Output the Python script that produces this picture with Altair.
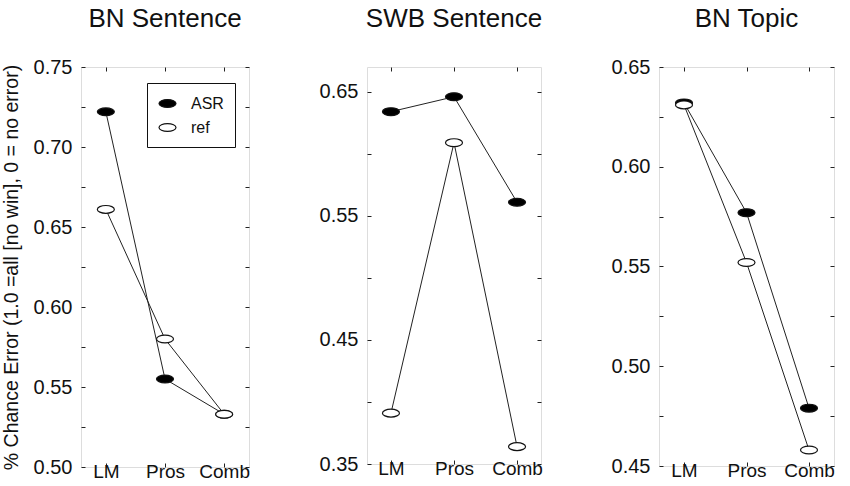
import altair as alt
import pandas as pd

# ---- data ----
categories = ["LM", "Pros", "Comb"]
series_names = ["ASR", "ref"]

bn_sent_asr = [0.722, 0.555, 0.533]
bn_sent_ref = [0.661, 0.580, 0.533]
swb_sent_asr = [0.634, 0.646, 0.561]
swb_sent_ref = [0.391, 0.609, 0.364]
bn_topic_asr = [0.632, 0.577, 0.479]
bn_topic_ref = [0.631, 0.552, 0.458]

bn_sent_ticks = [0.500, 0.525, 0.550, 0.575, 0.600, 0.625, 0.650, 0.675, 0.700, 0.725, 0.750]
swb_sent_ticks = [0.35, 0.40, 0.45, 0.50, 0.55, 0.60, 0.65]
bn_topic_ticks = [0.450, 0.475, 0.500, 0.525, 0.550, 0.575, 0.600, 0.625, 0.650]

bn_sent_labels = [0.50, 0.55, 0.60, 0.65, 0.70, 0.75]
swb_sent_labels = [0.35, 0.45, 0.55, 0.65]
bn_topic_labels = [0.45, 0.50, 0.55, 0.60, 0.65]

titles = ["BN Sentence", "SWB Sentence", "BN Topic"]
y_title = "% Chance Error (1.0 =all [no win], 0 = no error)"

FONT = "Liberation Sans"
TXT = "#111111"
ELLIPSE = "M -1 0 A 1 0.46 0 1 1 1 0 A 1 0.46 0 1 1 -1 0 Z"


def make_df(asr, ref):
    rows = []
    for name, vals in zip(series_names, [asr, ref]):
        for c, v in zip(categories, vals):
            rows.append({"cat": c, "series": name, "value": v})
    return pd.DataFrame(rows)


def label_expr(labels):
    conds = " || ".join(f"abs(datum.value - {v}) < 0.0001" for v in labels)
    return f"({conds}) ? format(datum.value, '.2f') : ''"


def panel(asr, ref, domain, ticks, labels, pad, width, height, title, title_offset,
          ytitle=None, legend=False):
    df = make_df(asr, ref)
    xscale = alt.Scale(type="point", domain=categories, padding=pad)
    yscale = alt.Scale(domain=domain, nice=False, zero=False)

    x_bottom = alt.Axis(orient="bottom", title=None, labelAngle=0, domain=False,
                        tickSize={"expr": "-4"}, tickColor="#222", labelPadding=-1,
                        labelFontSize=19, labelColor=TXT, labelFont=FONT)
    y_left_kwargs = dict(orient="left", values=ticks, labelExpr=label_expr(labels), domain=False,
                         tickSize={"expr": "-4"}, tickColor="#222", labelPadding=13,
                         labelFontSize=20, labelColor=TXT, labelFont=FONT, grid=False)
    if ytitle:
        y_left = alt.Axis(title=ytitle, titleFontSize=19.5, titleFontWeight="normal",
                          titleColor=TXT, titleFont=FONT, titlePadding=12, **y_left_kwargs)
    else:
        y_left = alt.Axis(title=None, **y_left_kwargs)

    x_top = alt.Axis(orient="top", title=None, labels=False, domain=False,
                     tickSize={"expr": "-4"}, tickColor="#222")
    y_right = alt.Axis(orient="right", title=None, labels=False, domain=False, values=ticks,
                       tickSize={"expr": "-4"}, tickColor="#222", grid=False)

    lines = alt.Chart(df).mark_line(color="#222", strokeWidth=1).encode(
        x=alt.X("cat:N", scale=xscale, axis=x_bottom, sort=categories),
        y=alt.Y("value:Q", scale=yscale, axis=y_left),
        detail="series:N",
    )

    fill_kwargs = dict(scale=alt.Scale(domain=series_names, range=["#000000", "#ffffff"]))
    if legend:
        leg = alt.Legend(title=None, orient="none", legendX=66, legendY=16,
                         strokeColor="#111", padding=11, symbolType=ELLIPSE, symbolSize=289,
                         symbolStrokeColor="#111", symbolStrokeWidth=1.2, labelFontSize=16,
                         labelFont=FONT, labelColor=TXT, labelOffset=14, rowPadding=6,
                         fillColor="white")
        fill = alt.Fill("series:N", legend=leg, **fill_kwargs)
    else:
        fill = alt.Fill("series:N", legend=None, **fill_kwargs)

    points = alt.Chart(df).mark_point(shape=ELLIPSE, size=289, filled=True, stroke="#111",
                                      strokeWidth=1.2, opacity=1).encode(
        x=alt.X("cat:N", scale=xscale, axis=x_top, sort=categories),
        y=alt.Y("value:Q", scale=yscale, axis=y_right),
        fill=fill,
    )

    return alt.layer(lines, points).resolve_axis(x="independent", y="independent").properties(
        width=width, height=height,
        title=alt.TitleParams(title, fontSize=26, font=FONT, fontWeight="normal",
                              color=TXT, offset=title_offset, frame="group"),
    )


p1 = panel(bn_sent_asr, bn_sent_ref, [0.50, 0.75], bn_sent_ticks, bn_sent_labels, 0.42,
           168, 400, titles[0], 25, ytitle=y_title, legend=True)
p2 = panel(swb_sent_asr, swb_sent_ref, [0.35, 0.67], swb_sent_ticks, swb_sent_labels, 0.38,
           174, 397, titles[1], 35)
p3 = panel(bn_topic_asr, bn_topic_ref, [0.45, 0.65], bn_topic_ticks, bn_topic_labels, 0.40,
           175, 399, titles[2], 25)

chart = alt.hconcat(p1, p2, p3, spacing=118, bounds="flush").configure_view(
    stroke="#222", strokeWidth=1
).properties(
    padding={"left": 0, "top": 5, "right": 5, "bottom": 0}
).configure(background="white")

chart.save("out.html", embed_options={"renderer": "svg", "actions": False})
